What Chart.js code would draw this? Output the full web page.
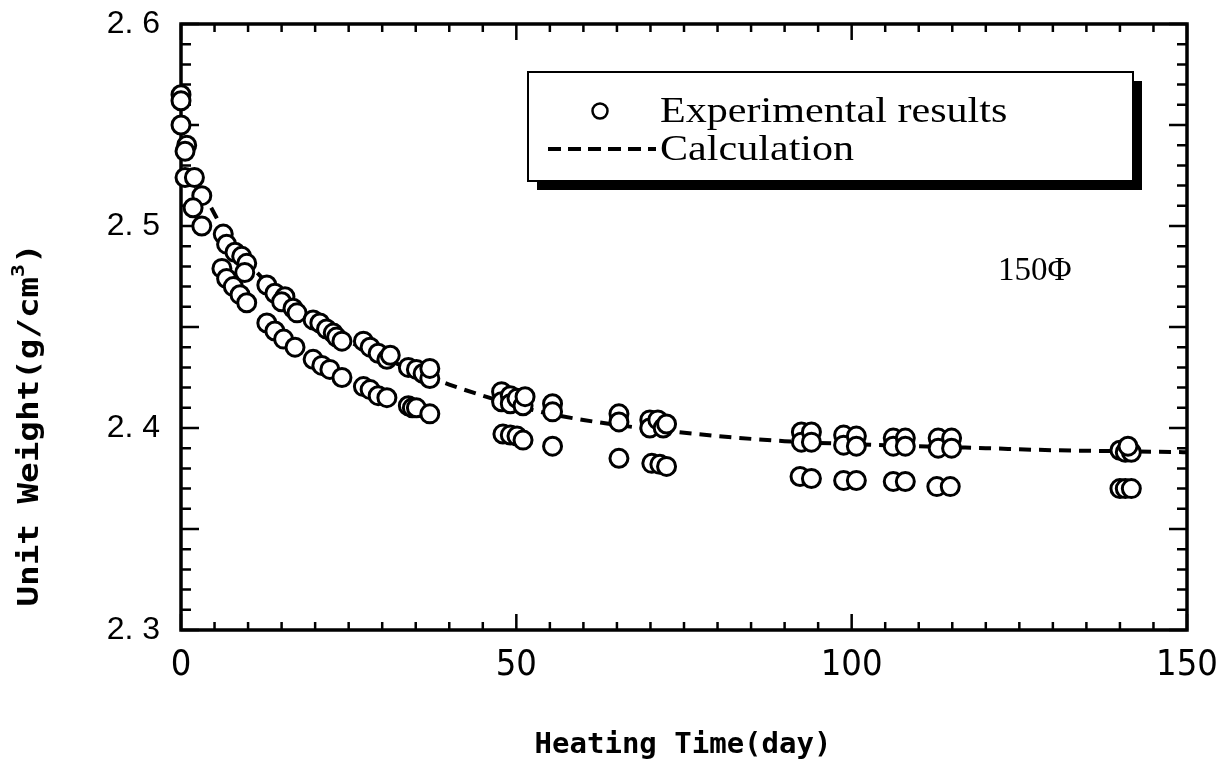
<!DOCTYPE html>
<html>
<head>
<meta charset="utf-8">
<script src="https://cdn.jsdelivr.net/npm/chart.js@4/dist/chart.umd.min.js"></script>
<style>
  html, body { margin: 0; padding: 0; background: #fff; }
  canvas { display: block; }
</style>
</head>
<body>
<canvas id="chart" width="1223" height="768"></canvas>
<script>
// measured unit weight (g/cm3) against heating time (day)
const expDays = [
  0, 0, 0, 0.85, 0.6, 0.6, 2.0, 3.1, 1.8, 3.1,
  6.3, 6.8, 8.05, 9.05, 9.8, 9.5,
  6.1, 6.8, 7.8, 8.8, 9.8,
  12.8, 14.0, 15.5, 15.0, 16.7, 17.3,
  12.8, 14.0, 15.3, 17.0,
  19.7, 20.7, 21.7, 22.7, 23.2, 24.0,
  19.7, 21.0, 22.2, 24.0,
  27.2, 28.2, 29.4, 30.7, 31.2,
  27.2, 28.2, 29.4, 30.7,
  33.9, 35.1, 36.1, 37.1, 37.1,
  33.9, 34.5, 35.1, 37.1,
  47.8, 47.8, 49.1, 49.1, 50.1, 51.0, 51.3,
  48.0, 49.1, 50.1, 51.0,
  55.4, 55.4, 55.4,
  65.3, 65.3, 65.3,
  69.9, 69.9, 71.1, 71.9, 72.4, 70.2, 71.4, 72.4,
  92.5, 92.5, 94.0, 94.0, 92.3, 94.0,
  98.8, 98.8, 100.7, 100.7, 98.8, 100.7,
  106.2, 106.2, 108.0, 108.0, 106.2, 108.0,
  112.9, 112.9, 114.9, 114.9, 112.7, 114.7,
  140.0, 140.8, 141.7, 141.2, 140.0, 140.8, 141.7
];
const expWeight = [
  2.565, 2.562, 2.550, 2.540, 2.537, 2.524, 2.524, 2.515, 2.509, 2.500,
  2.496, 2.491, 2.487, 2.485, 2.4815, 2.477,
  2.479, 2.474, 2.470, 2.466, 2.462,
  2.4708, 2.4667, 2.465, 2.4625, 2.4593, 2.457,
  2.452, 2.448, 2.444, 2.440,
  2.4535, 2.452, 2.449, 2.447, 2.445, 2.443,
  2.434, 2.431, 2.429, 2.425,
  2.443, 2.440, 2.437, 2.434, 2.436,
  2.4205, 2.419, 2.416, 2.415,
  2.430, 2.429, 2.427, 2.4245, 2.4295,
  2.411, 2.410, 2.410, 2.407,
  2.418, 2.413, 2.416, 2.412, 2.4147, 2.411, 2.4155,
  2.397, 2.3965, 2.396, 2.394,
  2.412, 2.408, 2.391,
  2.407, 2.403, 2.385,
  2.404, 2.400, 2.404, 2.400, 2.402, 2.3825, 2.382, 2.381,
  2.398, 2.393, 2.398, 2.393, 2.376, 2.375,
  2.3965, 2.3915, 2.396, 2.391, 2.374, 2.374,
  2.395, 2.391, 2.395, 2.391, 2.3735, 2.3735,
  2.395, 2.390, 2.395, 2.390, 2.371, 2.371,
  2.389, 2.388, 2.388, 2.391, 2.370, 2.370, 2.370
];

// calculated curve
const calcDays = [4.5, 6, 8, 10, 12.5, 15, 17.5, 20, 25, 30, 35, 40, 45, 50, 55, 60, 65, 70, 80, 90, 100, 110, 120, 130, 140, 150];
const calcWeight = [2.509, 2.500, 2.490, 2.482, 2.473, 2.466, 2.459, 2.453, 2.443, 2.435, 2.428, 2.4215, 2.416, 2.411, 2.407, 2.404, 2.4015, 2.3995, 2.396, 2.3935, 2.392, 2.391, 2.390, 2.389, 2.3885, 2.388];

const xTicks = [0, 50, 100, 150];
const yTicks = [2.3, 2.4, 2.5, 2.6];

const legendLabels = ['Experimental results', 'Calculation'];
const noteText = '150Φ';
const xTitle = 'Heating Time(day)';
const yTitle = 'Unit Weight(g/cm';

const expPoints = expDays.map((d, i) => ({ x: d, y: expWeight[i] }));
const calcPoints = calcDays.map((d, i) => ({ x: d, y: calcWeight[i] }));

const MONO = '"DejaVu Sans Mono", "Liberation Mono", monospace';
const SERIF = '"Liberation Serif", "DejaVu Serif", serif';

// frame with inward ticks on all four sides
const framePlugin = {
  id: 'frame',
  beforeDatasetsDraw(chart) {
    const { ctx, chartArea: a, scales: { x, y } } = chart;
    ctx.save();
    ctx.strokeStyle = '#000';
    ctx.lineWidth = 2.5;
    ctx.beginPath();
    for (let i = 0; i <= 30; i++) {
      const px = x.getPixelForValue(i * 5);
      const len = i % 10 === 0 ? 16 : 8;
      ctx.moveTo(px, a.bottom); ctx.lineTo(px, a.bottom - len);
      ctx.moveTo(px, a.top); ctx.lineTo(px, a.top + len);
    }
    for (let i = 0; i <= 30; i++) {
      const py = y.getPixelForValue(2.3 + i * 0.01);
      const len = i % 5 === 0 ? 18 : 10;
      ctx.moveTo(a.left, py); ctx.lineTo(a.left + len, py);
      ctx.moveTo(a.right, py); ctx.lineTo(a.right - len, py);
    }
    ctx.stroke();
    ctx.lineWidth = 3.5;
    ctx.strokeRect(a.left, a.top, a.right - a.left, a.bottom - a.top);
    ctx.restore();
  },
  afterDraw(chart) {
    const { ctx } = chart;
    ctx.save();
    ctx.fillStyle = '#000';
    ctx.strokeStyle = '#000';

    // x title
    ctx.font = 'bold 29px ' + MONO;
    ctx.textAlign = 'center';
    ctx.textBaseline = 'middle';
    ctx.fillText(xTitle, 683, 745);

    // y title, rotated, with superscript 3
    ctx.save();
    ctx.translate(30, 425);
    ctx.rotate(-Math.PI / 2);
    ctx.scale(1.18, 1);
    ctx.font = 'bold 29px ' + MONO;
    const w1 = ctx.measureText(yTitle).width;
    ctx.font = 'bold 18px ' + MONO;
    const w2 = ctx.measureText('3').width;
    ctx.font = 'bold 29px ' + MONO;
    const w3 = ctx.measureText(')').width;
    let sx = -(w1 + w2 + w3) / 2;
    ctx.textAlign = 'left';
    ctx.fillText(yTitle, sx, 0);
    sx += w1;
    ctx.font = 'bold 18px ' + MONO;
    ctx.fillText('3', sx, -11);
    sx += w2;
    ctx.font = 'bold 29px ' + MONO;
    ctx.fillText(')', sx, 0);
    ctx.restore();

    // legend box with drop shadow
    const bx = 528, by = 72, bw = 605, bh = 109, sh = 9;
    ctx.fillRect(bx + sh, by + sh, bw, bh);
    ctx.fillStyle = '#fff';
    ctx.fillRect(bx, by, bw, bh);
    ctx.lineWidth = 2;
    ctx.strokeRect(bx, by, bw, bh);
    ctx.fillStyle = '#000';

    ctx.lineWidth = 2.5;
    ctx.beginPath();
    ctx.arc(600, 111, 7.5, 0, Math.PI * 2);
    ctx.stroke();

    ctx.lineWidth = 4;
    ctx.setLineDash([13, 7]);
    ctx.beginPath();
    ctx.moveTo(548, 149);
    ctx.lineTo(656, 149);
    ctx.stroke();
    ctx.setLineDash([]);

    ctx.textAlign = 'left';
    ctx.textBaseline = 'alphabetic';
    ctx.font = '36px ' + SERIF;
    ctx.save();
    ctx.translate(660, 122);
    ctx.scale(1.17, 1);
    ctx.fillText(legendLabels[0], 0, 0);
    ctx.restore();
    ctx.save();
    ctx.translate(660, 160);
    ctx.scale(1.17, 1);
    ctx.fillText(legendLabels[1], 0, 0);
    ctx.restore();

    // specimen note
    ctx.font = '33px ' + SERIF;
    ctx.fillText(noteText, 998, 280);

    ctx.restore();
  }
};

new Chart(document.getElementById('chart'), {
  type: 'scatter',
  data: {
    datasets: [
      {
        label: legendLabels[0],
        data: expPoints,
        pointRadius: 9,
        pointBorderWidth: 3,
        pointBackgroundColor: '#fff',
        pointBorderColor: '#000',
        clip: false,
        order: 0
      },
      {
        type: 'line',
        label: legendLabels[1],
        data: calcPoints,
        borderColor: '#000',
        borderWidth: 4,
        borderDash: [12, 8],
        pointRadius: 0,
        cubicInterpolationMode: 'monotone',
        fill: false,
        order: 1
      }
    ]
  },
  options: {
    responsive: false,
    animation: false,
    events: [],
    layout: { padding: { left: 0, top: 24, right: 36, bottom: 0 } },
    plugins: { legend: { display: false }, tooltip: { enabled: false } },
    scales: {
      x: {
        type: 'linear',
        min: 0,
        max: 150,
        afterBuildTicks: s => { s.ticks = xTicks.map(v => ({ value: v })); },
        afterFit: s => { s.height = 138; s.paddingLeft = 0; s.paddingRight = 0; },
        grid: { display: false, drawTicks: false },
        border: { display: false },
        ticks: {
          color: '#000',
          padding: 14,
          maxRotation: 0,
          font: { family: '"Liberation Sans Narrow", "DejaVu Sans Condensed", "Liberation Sans", sans-serif', size: 36 }
        }
      },
      y: {
        min: 2.3,
        max: 2.6,
        afterBuildTicks: s => { s.ticks = yTicks.map(v => ({ value: v })); },
        afterFit: s => { s.width = 181; s.paddingTop = 0; s.paddingBottom = 0; },
        grid: { display: false, drawTicks: false },
        border: { display: false },
        ticks: {
          color: '#000',
          padding: 21,
          font: { family: '"Liberation Sans", Arial, sans-serif', size: 32 },
          callback: v => v.toFixed(1).replace('.', '. ')
        }
      }
    }
  },
  plugins: [framePlugin]
});
</script>
</body>
</html>
